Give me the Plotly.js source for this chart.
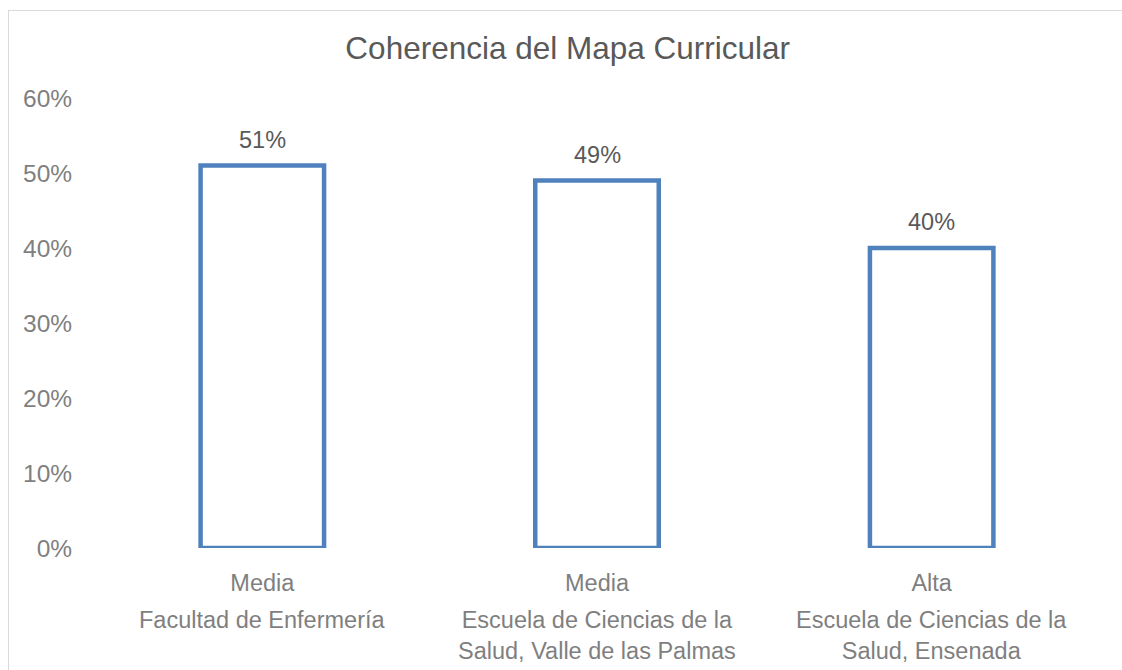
<!DOCTYPE html>
<html>
<head>
<meta charset="utf-8">
<script src="https://cdn.plot.ly/plotly-3.0.1.min.js"></script>
<style>
  html, body { margin: 0; padding: 0; background: #ffffff; overflow: hidden; }
  #frame { position: absolute; left: 8px; top: 10px; width: 1300px; height: 900px; border: 1px solid #d9d9d9; box-sizing: border-box; }
  #chart { position: absolute; left: 0; top: 0; width: 1122px; height: 670px; }
</style>
</head>
<body>
<div id="frame"></div>
<div id="chart"></div>
<script>
// Data
const institutions = [
  "Facultad de Enfermería",
  "Escuela de Ciencias de la<br>Salud, Valle de las Palmas",
  "Escuela de Ciencias de la<br>Salud, Ensenada"
];
const levels = ["Media", "Media", "Alta"];
const values = [0.51, 0.49, 0.40];
const valueLabels = ["51%", "49%", "40%"];
const yTickVals = [0, 0.1, 0.2, 0.3, 0.4, 0.5, 0.6];
const yTickText = ["0%", "10%", "20%", "30%", "40%", "50%", "60%"];

const FONT = "Liberation Sans, Arial, Helvetica, sans-serif";

const trace = {
  type: "bar",
  x: institutions,
  y: values,
  marker: { color: "#ffffff", line: { color: "#4F81BD", width: 4.5 } },
  hoverinfo: "skip"
};

const annotations = [];
institutions.forEach((name, i) => {
  annotations.push({
    x: name, y: values[i], xref: "x", yref: "y",
    text: valueLabels[i], showarrow: false,
    yanchor: "bottom", yshift: 11,
    font: { family: FONT, size: 23.5, color: "#595959" }
  });
  annotations.push({
    x: name, y: -0.126, xref: "x", yref: "paper",
    text: name, showarrow: false,
    yanchor: "top", align: "center",
    font: { family: FONT, size: 23.5, color: "#7f7f7f" }
  });
});

const layout = {
  width: 1122, height: 670,
  margin: { l: 95, r: 23, t: 98, b: 122 },
  paper_bgcolor: "rgba(0,0,0,0)",
  plot_bgcolor: "rgba(0,0,0,0)",
  showlegend: false,
  bargap: 0.631,
  title: {
    text: "Coherencia del Mapa Curricular",
    xref: "container", yref: "container",
    x: 0.506, y: 0.928, xanchor: "center", yanchor: "middle",
    font: { family: FONT, size: 31.5, color: "#595959" }
  },
  xaxis: {
    type: "category",
    tickvals: institutions,
    ticktext: levels,
    showline: false, showgrid: false, zeroline: false,
    ticks: "outside", ticklen: 14, tickcolor: "rgba(0,0,0,0)",
    tickfont: { family: FONT, size: 23.5, color: "#7f7f7f" },
    fixedrange: true
  },
  yaxis: {
    range: [0, 0.6],
    tickvals: yTickVals,
    ticktext: yTickText,
    showline: false, showgrid: false, zeroline: false,
    ticks: "outside", ticklen: 17, tickcolor: "rgba(0,0,0,0)",
    tickfont: { family: FONT, size: 24.5, color: "#7f7f7f" },
    fixedrange: true
  },
  annotations: annotations
};

Plotly.newPlot("chart", [trace], layout, { displayModeBar: false, staticPlot: true });
</script>
</body>
</html>
